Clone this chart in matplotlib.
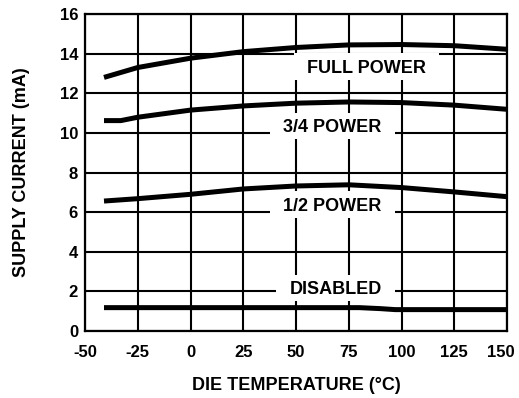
import matplotlib
matplotlib.use("Agg")
import matplotlib.pyplot as plt
from matplotlib.patches import Rectangle
from matplotlib.transforms import IdentityTransform, ScaledTranslation

plt.rcParams["font.family"] = ["Liberation Sans", "DejaVu Sans"]
plt.rcParams["font.weight"] = "bold"
plt.rcParams["axes.unicode_minus"] = False

# Supply current readings (mA) against die temperature (°C)
temps = [-41, -33, -25, 0, 25, 50, 75, 100, 125, 150]
full_power = [12.8, 13.05, 13.3, 13.77, 14.1, 14.31, 14.44, 14.46, 14.4, 14.22]
three_quarter_power = [10.62, 10.62, 10.79, 11.15, 11.36, 11.5, 11.56, 11.53, 11.4, 11.19]
half_power = [6.56, 6.62, 6.68, 6.9, 7.17, 7.32, 7.38, 7.24, 7.02, 6.78]

disabled_temps = [-41, 0, 50, 80, 90, 97, 150]
disabled = [1.18, 1.18, 1.18, 1.18, 1.13, 1.08, 1.08]

x_ticks = [-50, -25, 0, 25, 50, 75, 100, 125, 150]
y_ticks = [0, 2, 4, 6, 8, 10, 12, 14, 16]

# Curve labels: text, x (°C), baseline (mA)
labels = [
    ("FULL POWER", 83.5, 13.04),
    ("3/4 POWER", 67.3, 10.03),
    ("1/2 POWER", 67.3, 6.06),
    ("DISABLED", 68.7, 1.85),
]

fig = plt.figure(figsize=(5.19, 3.98), dpi=100)
ax = fig.add_axes([0.1638, 0.1683, 0.8131, 0.7965])

ax.set_xlim(-50, 150)
ax.set_ylim(0, 16)
ax.set_xticks(x_ticks)
ax.set_yticks(y_ticks)
ax.grid(True, color="black", linewidth=1.5, zorder=1)
ax.set_axisbelow(True)
for s in ax.spines.values():
    s.set_linewidth(1.6)
ax.tick_params(axis="both", length=0, labelsize=12)
ax.tick_params(axis="x", pad=10)
ax.tick_params(axis="y", pad=5)
for lab in ax.get_xticklabels() + ax.get_yticklabels():
    lab.set_fontweight("bold")

# keep the last temperature label inside the figure
last = ax.get_xticklabels()[-1]
last.set_transform(last.get_transform() + ScaledTranslation(-6 / 100, 0, fig.dpi_scale_trans))

ax.set_xlabel("DIE TEMPERATURE (°C)", fontsize=13, fontweight="bold", labelpad=12)
ax.set_ylabel("SUPPLY CURRENT (mA)", fontsize=13, fontweight="bold", labelpad=21)

lw = 3.6
for series in (full_power, three_quarter_power, half_power):
    ax.plot(temps, series, color="black", linewidth=lw, solid_capstyle="butt", zorder=4)
ax.plot(disabled_temps, disabled, color="black", linewidth=lw, solid_capstyle="butt", zorder=4)

texts = []
for txt, x, y in labels:
    t = ax.text(x, y, txt, ha="center", va="baseline", fontsize=13,
                fontweight="bold", zorder=6)
    texts.append(t)

# White panels behind the curve labels, sized from the rendered text
fig.canvas.draw()
renderer = fig.canvas.get_renderer()
for t in texts:
    bb = t.get_window_extent(renderer)
    x0 = bb.x0 - 13
    w = bb.width + 26
    base = ax.transData.transform(t.get_position())[1]
    rect = Rectangle((x0, base - 7), w, 26.5, transform=IdentityTransform(),
                     facecolor="white", edgecolor="none", zorder=3)
    ax.add_artist(rect)

fig.savefig("out.png", dpi=100)
